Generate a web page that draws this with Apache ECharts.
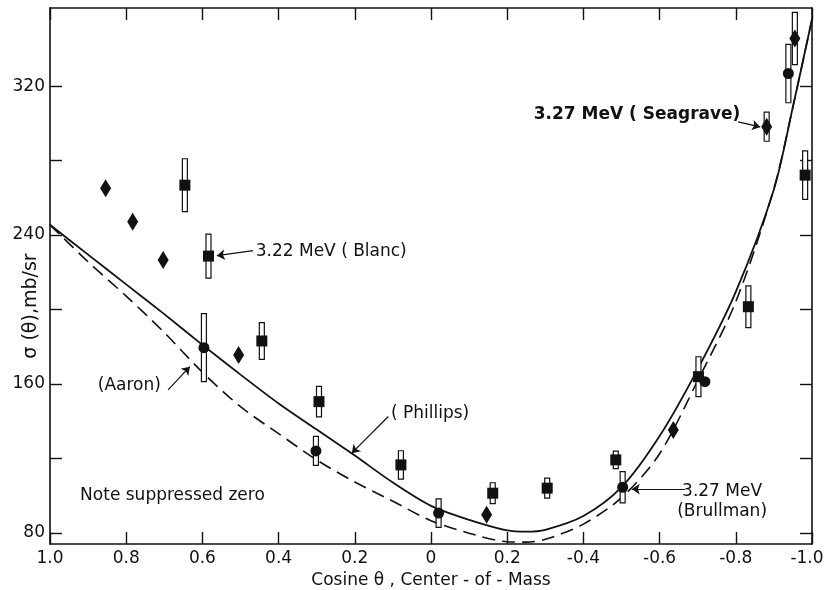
<!DOCTYPE html>
<html>
<head>
<meta charset="utf-8">
<script src="https://cdn.jsdelivr.net/npm/echarts@6/dist/echarts.min.js"></script>
<style>
  html, body { margin: 0; padding: 0; background: #fff; }
  #chart { width: 824px; height: 590px; }
</style>
</head>
<body>
<div id="chart"></div>
<script>
// Axis ticks and their printed labels
const xTicks = [1.0, 0.8, 0.6, 0.4, 0.2, 0, -0.2, -0.4, -0.6, -0.8, -1.0];
const xTickLabels = ['1.0', '0.8', '0.6', '0.4', '0.2', '0', '0.2', '-0.4', '-0.6', '-0.8', '-1.0'];
const yTicks = [80, 120, 160, 200, 240, 280, 320];
const yTickLabels = [80, 160, 240, 320];

// Theoretical curves (cos θ, σ in mb/sr)
const curveCos = [1.0, 0.9, 0.8, 0.7, 0.6, 0.5, 0.4, 0.3, 0.2, 0.1, 0.0, -0.1, -0.2, -0.25, -0.3, -0.4, -0.5, -0.6, -0.7, -0.8, -0.9, -0.95, -1.0];
const phillips = [245.5, 229.5, 213.5, 197.5, 181.0, 165.0, 149.5, 135.5, 121.5, 107.0, 94.5, 87.0, 81.3, 80.6, 81.6, 89.0, 104.5, 132.0, 168.0, 209.5, 264.5, 309.0, 356.0];
const aaron    = [245.5, 225.6, 207.2, 187.6, 166.3, 147.8, 133.3, 119.2, 107.3, 97.0, 86.5, 79.8, 75.2, 75.0, 76.5, 84.7, 98.9, 122.5, 161.8, 204.2, 265.0, 309.0, 356.0];

// 3.27 MeV (Seagrave) — diamonds
const seagraveCos   = [0.854, 0.783, 0.703, 0.505, -0.146, -0.636, -0.881, -0.955];
const seagraveSigma = [265.1, 247.1, 226.6, 175.6, 89.7, 135.3, 298.2, 345.6];
const seagraveErr   = [0, 0, 0, 0, 0, 0, 7.8, 14.0];

// 3.22 MeV (Blanc) — squares
const blancCos   = [0.646, 0.584, 0.444, 0.294, 0.079, -0.162, -0.305, -0.485, -0.702, -0.833, -0.982];
const blancSigma = [266.8, 228.7, 183.1, 150.5, 116.5, 101.3, 104.0, 119.2, 163.9, 201.5, 272.2];
const blancErr   = [14.2, 11.8, 9.9, 8.2, 7.6, 5.6, 5.4, 4.7, 10.7, 11.2, 13.0];

// 3.27 MeV (Brullman) — circles
const brullmanCos   = [0.596, 0.302, -0.020, -0.503, -0.719, -0.938];
const brullmanSigma = [179.5, 124.0, 90.6, 104.5, 161.2, 326.8];
const brullmanErr   = [18.3, 7.8, 7.7, 8.4, 0, 15.7];

// Annotations (anchored in data coordinates)
const noteText  = ['3.27 MeV ( Seagrave)', '3.22 MeV ( Blanc)', '(Aaron)', '( Phillips)', '3.27 MeV\n(Brullman)', 'Note suppressed zero'];
const noteAt    = [[-0.812, 304.5], [0.460, 231.0], [0.709, 158.9], [0.105, 144.0], [-0.764, 97.0], [0.921, 99.9]];
const noteAlign = ['right', 'left', 'right', 'left', 'center', 'left'];
const noteBold  = [true, false, false, false, false, false];
const arrowFrom = [[-0.806, 300.8], [0.467, 231.6], [0.690, 156.8], [0.112, 142.5], [-0.667, 103.5]];
const arrowTo   = [[-0.864, 298.1], [0.562, 228.9], [0.633, 169.3], [0.208, 122.8], [-0.527, 103.5]];

const INK = '#111';
const FONT = 'DejaVu Sans';

const zip = (a, b) => a.map((v, i) => [v, b[i]]);
const withErr = (xs, ys, es) => xs.map((x, i) => [x, ys[i], es[i]]).filter(d => d[2] > 0);

function renderErrorBar(params, api) {
  const x = api.value(0), y = api.value(1), e = api.value(2);
  const top = api.coord([x, y + e]);
  const bot = api.coord([x, y - e]);
  const w = 5;
  return {
    type: 'rect',
    shape: { x: top[0] - w / 2, y: top[1], width: w, height: bot[1] - top[1] },
    style: { fill: '#fff', stroke: INK, lineWidth: 1.2 }
  };
}

// The last label sits at the right frame edge, so it is nudged inward
function xLabel(v) {
  const i = xTicks.findIndex(t => Math.abs(t - v) < 1e-6);
  if (i < 0) return '';
  return i === xTicks.length - 1 ? '{edge|' + xTickLabels[i] + '}' : xTickLabels[i];
}

const frame = { show: true, onZero: false, lineStyle: { color: INK, width: 1.6 } };
const tick = (vals) => ({ show: true, inside: true, length: 12, customValues: vals, lineStyle: { color: INK, width: 1.4 } });
const solidMark = { color: INK, opacity: 1 };

const chart = echarts.init(document.getElementById('chart'));
chart.setOption({
  animation: false,
  backgroundColor: '#fff',
  textStyle: { fontFamily: FONT, color: INK },
  grid: { left: 50, right: 12, top: 8, bottom: 46, containLabel: false, outerBoundsMode: 'none' },
  xAxis: [
    {
      type: 'value', min: -1, max: 1, inverse: true, position: 'bottom',
      axisLine: frame, axisTick: tick(xTicks), splitLine: { show: false },
      axisLabel: {
        customValues: xTicks, formatter: xLabel, fontSize: 17, color: INK, fontFamily: FONT, margin: 6,
        rich: { edge: { fontSize: 17, color: INK, fontFamily: FONT, padding: [0, 10, 0, 0] } }
      },
      name: 'Cosine θ , Center - of - Mass', nameLocation: 'middle', nameGap: 27,
      nameTextStyle: { fontSize: 17, color: INK, fontFamily: FONT }
    },
    {
      type: 'value', min: -1, max: 1, inverse: true, position: 'top',
      axisLine: frame, axisTick: tick(xTicks), axisLabel: { show: false }, splitLine: { show: false }
    }
  ],
  yAxis: [
    {
      type: 'value', min: 74, max: 362, position: 'left',
      axisLine: frame, axisTick: tick(yTicks), splitLine: { show: false },
      axisLabel: { customValues: yTickLabels, formatter: v => String(v), fontSize: 17, color: INK, fontFamily: FONT, margin: 5 }
    },
    {
      type: 'value', min: 74, max: 362, position: 'right',
      axisLine: frame, axisTick: tick(yTicks), axisLabel: { show: false }, splitLine: { show: false }
    }
  ],
  graphic: [
    {
      type: 'text', x: 31, y: 306, rotation: Math.PI / 2,
      style: { text: 'σ (θ),mb/sr', font: '19px "DejaVu Sans"', fill: INK, align: 'center', verticalAlign: 'middle' }
    }
  ],
  series: [
    {
      name: 'Phillips', type: 'line', data: zip(curveCos, phillips), smooth: 0.3,
      symbol: 'none', z: 2, lineStyle: { color: INK, width: 1.8 }
    },
    {
      name: 'Aaron', type: 'line', data: zip(curveCos, aaron), smooth: 0.3,
      symbol: 'none', z: 2, lineStyle: { color: INK, width: 1.6, type: [13, 7] }
    },
    { name: 'Seagrave errors', type: 'custom', renderItem: renderErrorBar, data: withErr(seagraveCos, seagraveSigma, seagraveErr), z: 3 },
    { name: 'Blanc errors', type: 'custom', renderItem: renderErrorBar, data: withErr(blancCos, blancSigma, blancErr), z: 3 },
    { name: 'Brullman errors', type: 'custom', renderItem: renderErrorBar, data: withErr(brullmanCos, brullmanSigma, brullmanErr), z: 3 },
    {
      name: 'Seagrave', type: 'scatter', data: zip(seagraveCos, seagraveSigma), symbol: 'diamond',
      symbolSize: [11, 18], itemStyle: solidMark, z: 4
    },
    {
      name: 'Blanc', type: 'scatter', data: zip(blancCos, blancSigma), symbol: 'rect',
      symbolSize: 11, itemStyle: solidMark, z: 4
    },
    {
      name: 'Brullman', type: 'scatter', data: zip(brullmanCos, brullmanSigma), symbol: 'circle',
      symbolSize: 11, itemStyle: solidMark, z: 4
    },
    {
      name: 'Notes', type: 'scatter', symbolSize: 0, z: 5, silent: true,
      itemStyle: { opacity: 1 },
      data: noteText.map((t, i) => ({
        value: noteAt[i],
        label: {
          show: true, formatter: t, position: [0, 0], align: noteAlign[i], verticalAlign: 'middle',
          fontSize: 17, lineHeight: 20, fontFamily: FONT, color: INK, opacity: 1,
          fontWeight: noteBold[i] ? 'bold' : 'normal'
        }
      })),
      markLine: {
        silent: true, symbol: ['none', 'arrow'], symbolSize: 8,
        label: { show: false },
        lineStyle: { color: INK, width: 1.2, type: 'solid', opacity: 1 },
        data: arrowFrom.map((a, i) => [{ coord: a }, { coord: arrowTo[i] }])
      }
    }
  ]
});
</script>
</body>
</html>
